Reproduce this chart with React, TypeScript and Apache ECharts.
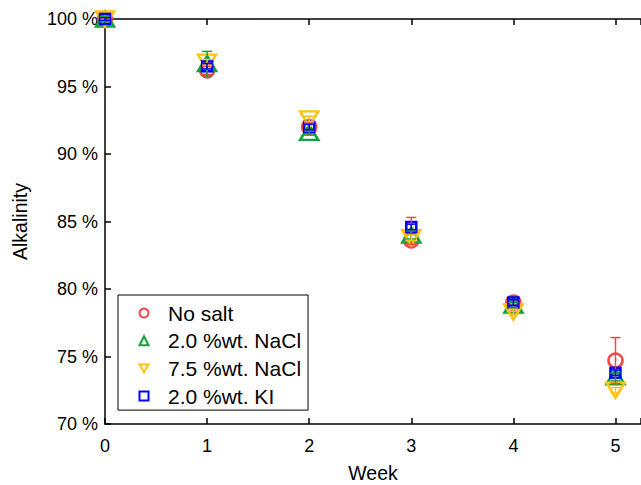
import React, { useEffect, useRef } from "react";
import * as echarts from "echarts";

const weeks = [0, 1, 2, 3, 4, 5];
const seriesNames = ["No salt", "2.0 %wt. NaCl", "7.5 %wt. NaCl", "2.0 %wt. KI"];
const noSalt = [100, 96.2, 92.0, 83.6, 79.0, 74.7];
const nacl2 = [100, 96.7, 91.6, 84.0, 78.8, 73.5];
const nacl75 = [100, 96.8, 92.6, 83.8, 78.3, 72.5];
const ki2 = [100, 96.5, 92.0, 84.6, 79.0, 73.8];
const errUpNoSalt = [0.1, 0.3, 0.3, 1.7, 0.2, 1.7];
const errDownNoSalt = [0.1, 0.3, 0.3, 0.3, 0.2, 1.7];
const errNacl2 = [0.2, 0.9, 0.2, 0.3, 0.2, 0.3];
const errNacl75 = [0.1, 0.2, 0.2, 0.2, 0.2, 0.2];
const errKi2 = [0.1, 0.2, 0.2, 0.2, 0.2, 0.2];
const yTicks = [70, 75, 80, 85, 90, 95, 100];

const colors = ["#f24848", "#12a33a", "#ffc20e", "#0000ff"];
const symbols = ["circle", "triangle", "triangle", "rect"];
const rotations = [0, 0, 180, 0];
const sizes: any[] = [14, [18, 15], [18, 15], 10];
const legendIcons = [
  "circle",
  "triangle",
  "path://M0,0L10,0L5,8.66Z",
  "rect",
];

export default function App() {
  const ref = useRef<HTMLDivElement>(null);
  useEffect(() => {
    if (!ref.current) return;
    const chart = echarts.init(ref.current, null, { renderer: "svg" });
    const means = [noSalt, nacl2, nacl75, ki2];
    const errsUp = [errUpNoSalt, errNacl2, errNacl75, errKi2];
    const errsDown = [errDownNoSalt, errNacl2, errNacl75, errKi2];
    const font = "Liberation Sans";
    const scatter = means.map((m, i) => ({
      type: "scatter",
      name: seriesNames[i],
      data: weeks.map((w, j) => [w, m[j]]),
      symbol: symbols[i],
      symbolRotate: rotations[i],
      symbolSize: sizes[i],
      itemStyle: { color: "rgba(0,0,0,0)", borderColor: colors[i], borderWidth: 2.5, opacity: 1 },
      z: 2 + i,
    }));
    const errorBars = means.map((m, i) => ({
      type: "custom",
      name: "err" + i,
      data: weeks.map((w, j) => [w, m[j] - errsDown[i][j], m[j] + errsUp[i][j]]),
      z: 10,
      renderItem: (params: any, api: any) => {
        const x = api.value(0);
        const lo = api.coord([x, api.value(1)]);
        const hi = api.coord([x, api.value(2)]);
        const hw = 5;
        const style = { stroke: colors[i], lineWidth: 1.5, fill: "none" };
        return {
          type: "group",
          children: [
            { type: "line", shape: { x1: lo[0], y1: lo[1], x2: hi[0], y2: hi[1] }, style },
            { type: "line", shape: { x1: hi[0] - hw, y1: hi[1], x2: hi[0] + hw, y2: hi[1] }, style },
            { type: "line", shape: { x1: lo[0] - hw, y1: lo[1], x2: lo[0] + hw, y2: lo[1] }, style },
          ],
        };
      },
    }));
    chart.setOption({
      animation: false,
      textStyle: { fontFamily: font },
      grid: { left: 105, top: 19, right: 0, bottom: 61, outerBoundsMode: "none", containLabel: false },
      legend: {
        data: seriesNames.map((n, i) => ({ name: n, icon: legendIcons[i] })),
        orient: "vertical",
        left: 118,
        top: 295,
        backgroundColor: "#fff",
        borderColor: "#000",
        borderWidth: 1,
        borderRadius: 0,
        padding: [7.5, 7, 3.5, 20.5],
        itemWidth: 9,
        itemHeight: 9,
        itemGap: 6.7,
        itemStyle: { borderWidth: 2 },
        textStyle: { fontFamily: font, fontSize: 21, color: "#000", lineHeight: 21, padding: [0, 0, 0, 14.5] },
        selectedMode: false,
      },
      xAxis: [
        {
          type: "value",
          min: 0,
          max: 5.25,
          interval: 1,
          name: "Week",
          nameLocation: "middle",
          nameGap: 39,
          nameTextStyle: { fontFamily: font, fontSize: 19.5, color: "#000", lineHeight: 20 },
          axisLine: { lineStyle: { color: "#000", width: 1.5 } },
          axisTick: { inside: true, length: 6, lineStyle: { color: "#000", width: 1.5 } },
          axisLabel: {
            fontFamily: font,
            fontSize: 18,
            color: "#000",
            margin: 13,
            formatter: (v: number) => (Number.isInteger(v) ? String(v) : ""),
          },
          splitLine: { show: false },
        },
        {
          type: "value",
          position: "top",
          min: 0,
          max: 5.25,
          interval: 1,
          axisLine: { show: true, lineStyle: { color: "#000", width: 1.5 } },
          axisTick: { show: true, inside: true, length: 6, lineStyle: { color: "#000", width: 1.5 } },
          axisLabel: { show: false },
          splitLine: { show: false },
        },
      ],
      yAxis: {
        type: "value",
        min: yTicks[0],
        max: yTicks[yTicks.length - 1],
        interval: 5,
        name: "Alkalinity",
        nameLocation: "middle",
        nameGap: 75,
        nameTextStyle: { fontFamily: font, fontSize: 19.5, color: "#000" },
        axisLine: { show: true, lineStyle: { color: "#000", width: 1.5 } },
        axisTick: { inside: true, length: 6, lineStyle: { color: "#000", width: 1.5 } },
        axisLabel: { fontFamily: font, fontSize: 18, color: "#000", margin: 7, formatter: "{value} %" },
        splitLine: { show: false },
      },
      series: [...scatter, ...errorBars],
    });
    return () => chart.dispose();
  }, []);
  return (
    <div
      ref={ref}
      style={{ position: "fixed", left: 0, top: 0, width: 641, height: 485, background: "#fff" }}
    />
  );
}
